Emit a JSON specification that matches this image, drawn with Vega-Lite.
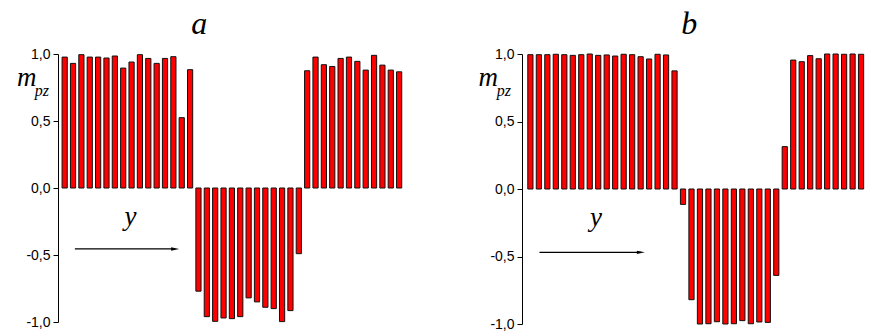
{
  "$schema": "https://vega.github.io/schema/vega-lite/v6.json",
  "padding": {"left": 17, "top": 7, "right": 0, "bottom": 0},
  "spacing": 112,
  "bounds": "flush",
  "config": {
    "view": {"stroke": null},
    "axisX": {"disable": true},
    "axisY": {
      "grid": false,
      "title": null,
      "domainColor": "black",
      "tickColor": "black",
      "labelColor": "black",
      "labelFont": "Liberation Sans",
      "labelFontSize": 14,
      "labelPadding": 3
    }
  },
  "datasets": {
    "a": [
      {"site": 1, "mpz": 0.977}, {"site": 2, "mpz": 0.93}, {"site": 3, "mpz": 0.995}, {"site": 4, "mpz": 0.977},
      {"site": 5, "mpz": 0.977}, {"site": 6, "mpz": 0.97}, {"site": 7, "mpz": 0.985}, {"site": 8, "mpz": 0.895},
      {"site": 9, "mpz": 0.94}, {"site": 10, "mpz": 0.995}, {"site": 11, "mpz": 0.967}, {"site": 12, "mpz": 0.93},
      {"site": 13, "mpz": 0.967}, {"site": 14, "mpz": 0.98}, {"site": 15, "mpz": 0.525}, {"site": 16, "mpz": 0.883},
      {"site": 17, "mpz": -0.77}, {"site": 18, "mpz": -0.96}, {"site": 19, "mpz": -0.995}, {"site": 20, "mpz": -0.97},
      {"site": 21, "mpz": -0.975}, {"site": 22, "mpz": -0.96}, {"site": 23, "mpz": -0.82}, {"site": 24, "mpz": -0.85},
      {"site": 25, "mpz": -0.89}, {"site": 26, "mpz": -0.9}, {"site": 27, "mpz": -0.997}, {"site": 28, "mpz": -0.915},
      {"site": 29, "mpz": -0.49},
      {"site": 30, "mpz": 0.875}, {"site": 31, "mpz": 0.977}, {"site": 32, "mpz": 0.92}, {"site": 33, "mpz": 0.907},
      {"site": 34, "mpz": 0.967}, {"site": 35, "mpz": 0.977}, {"site": 36, "mpz": 0.945}, {"site": 37, "mpz": 0.88},
      {"site": 38, "mpz": 0.99}, {"site": 39, "mpz": 0.917}, {"site": 40, "mpz": 0.88}, {"site": 41, "mpz": 0.867}
    ],
    "b": [
      {"site": 1, "mpz": 0.995}, {"site": 2, "mpz": 0.995}, {"site": 3, "mpz": 0.995}, {"site": 4, "mpz": 0.998},
      {"site": 5, "mpz": 0.995}, {"site": 6, "mpz": 0.99}, {"site": 7, "mpz": 0.995}, {"site": 8, "mpz": 1.0},
      {"site": 9, "mpz": 0.99}, {"site": 10, "mpz": 0.993}, {"site": 11, "mpz": 0.985}, {"site": 12, "mpz": 0.998},
      {"site": 13, "mpz": 0.995}, {"site": 14, "mpz": 0.98}, {"site": 15, "mpz": 0.963}, {"site": 16, "mpz": 0.998},
      {"site": 17, "mpz": 0.993}, {"site": 18, "mpz": 0.875},
      {"site": 19, "mpz": -0.114}, {"site": 20, "mpz": -0.82}, {"site": 21, "mpz": -1.0}, {"site": 22, "mpz": -0.998},
      {"site": 23, "mpz": -0.983}, {"site": 24, "mpz": -1.0}, {"site": 25, "mpz": -0.998}, {"site": 26, "mpz": -0.975},
      {"site": 27, "mpz": -0.998}, {"site": 28, "mpz": -0.985}, {"site": 29, "mpz": -0.988}, {"site": 30, "mpz": -0.64},
      {"site": 31, "mpz": 0.314}, {"site": 32, "mpz": 0.955}, {"site": 33, "mpz": 0.943}, {"site": 34, "mpz": 0.988},
      {"site": 35, "mpz": 0.965}, {"site": 36, "mpz": 1.0}, {"site": 37, "mpz": 1.0}, {"site": 38, "mpz": 0.998},
      {"site": 39, "mpz": 1.0}, {"site": 40, "mpz": 0.998}
    ],
    "one": [{}]
  },
  "hconcat": [
    {
      "width": 352,
      "height": 268,
      "layer": [
        {
          "data": {"name": "a"},
          "mark": {"type": "bar", "fill": "#ff0000", "stroke": "#111111", "strokeWidth": 1, "size": 5.2},
          "encoding": {
            "x": {"field": "site", "type": "quantitative", "scale": {"domain": [0.8, 41.7], "nice": false, "zero": false}},
            "y": {
              "field": "mpz", "type": "quantitative",
              "scale": {"domain": [-1, 1], "nice": false},
              "axis": {
                "values": [-1, -0.75, -0.5, -0.25, 0, 0.25, 0.5, 0.75, 1],
                "tickSize": {"condition": {"test": "abs(datum.value*2-round(datum.value*2))<0.01", "value": 5}, "value": 3},
                "labelExpr": "abs(datum.value*2-round(datum.value*2))<0.01 ? (datum.value<0?'-':'')+replace(format(abs(datum.value),'.1f'),'.',',') : ''"
              }
            }
          }
        },
        {
          "data": {"name": "one"},
          "mark": {"type": "rule", "color": "black", "strokeWidth": 1.3},
          "encoding": {"x": {"datum": 2.22}, "x2": {"datum": 14.2}, "y": {"datum": -0.455}}
        },
        {
          "data": {"name": "one"},
          "mark": {"type": "point", "shape": "M-1,-0.42L1,0L-1,0.42Z", "filled": true, "color": "black", "opacity": 1, "size": 64},
          "encoding": {"x": {"datum": 14.21}, "y": {"datum": -0.455}}
        },
        {
          "data": {"name": "one"},
          "mark": {"type": "text", "text": "a", "font": "Liberation Serif", "fontStyle": "italic", "fontSize": 32, "align": "center", "baseline": "alphabetic", "color": "black"},
          "encoding": {"x": {"datum": 17.08}, "y": {"datum": 1.152}}
        },
        {
          "data": {"name": "one"},
          "mark": {"type": "text", "text": "m", "font": "Liberation Serif", "fontStyle": "italic", "fontSize": 27, "align": "left", "baseline": "alphabetic", "color": "black"},
          "encoding": {"x": {"datum": -4.7}, "y": {"datum": 0.759}}
        },
        {
          "data": {"name": "one"},
          "mark": {"type": "text", "text": "pz", "font": "Liberation Serif", "fontStyle": "italic", "fontSize": 16, "align": "left", "baseline": "alphabetic", "color": "black"},
          "encoding": {"x": {"datum": -2.57}, "y": {"datum": 0.684}}
        },
        {
          "data": {"name": "one"},
          "mark": {"type": "text", "text": "y", "font": "Liberation Serif", "fontStyle": "italic", "fontSize": 27, "align": "center", "baseline": "alphabetic", "color": "black"},
          "encoding": {"x": {"datum": 8.88}, "y": {"datum": -0.275}}
        }
      ]
    },
    {
      "width": 350,
      "height": 270,
      "layer": [
        {
          "data": {"name": "b"},
          "mark": {"type": "bar", "fill": "#ff0000", "stroke": "#111111", "strokeWidth": 1, "size": 5.2},
          "encoding": {
            "x": {"field": "site", "type": "quantitative", "scale": {"domain": [0.6, 40.7], "nice": false, "zero": false}},
            "y": {
              "field": "mpz", "type": "quantitative",
              "scale": {"domain": [-1, 1], "nice": false},
              "axis": {
                "values": [-1, -0.75, -0.5, -0.25, 0, 0.25, 0.5, 0.75, 1],
                "tickSize": {"condition": {"test": "abs(datum.value*2-round(datum.value*2))<0.01", "value": 5}, "value": 3},
                "labelExpr": "abs(datum.value*2-round(datum.value*2))<0.01 ? (datum.value<0?'-':'')+replace(format(abs(datum.value),'.1f'),'.',',') : ''"
              }
            }
          }
        },
        {
          "data": {"name": "one"},
          "mark": {"type": "rule", "color": "black", "strokeWidth": 1.3},
          "encoding": {"x": {"datum": 2.07}, "x2": {"datum": 14.0}, "y": {"datum": -0.469}}
        },
        {
          "data": {"name": "one"},
          "mark": {"type": "point", "shape": "M-1,-0.42L1,0L-1,0.42Z", "filled": true, "color": "black", "opacity": 1, "size": 64},
          "encoding": {"x": {"datum": 14.03}, "y": {"datum": -0.469}}
        },
        {
          "data": {"name": "one"},
          "mark": {"type": "text", "text": "b", "font": "Liberation Serif", "fontStyle": "italic", "fontSize": 32, "align": "center", "baseline": "alphabetic", "color": "black"},
          "encoding": {"x": {"datum": 19.73}, "y": {"datum": 1.151}}
        },
        {
          "data": {"name": "one"},
          "mark": {"type": "text", "text": "m", "font": "Liberation Serif", "fontStyle": "italic", "fontSize": 27, "align": "left", "baseline": "alphabetic", "color": "black"},
          "encoding": {"x": {"datum": -5.12}, "y": {"datum": 0.761}}
        },
        {
          "data": {"name": "one"},
          "mark": {"type": "text", "text": "pz", "font": "Liberation Serif", "fontStyle": "italic", "fontSize": 16, "align": "left", "baseline": "alphabetic", "color": "black"},
          "encoding": {"x": {"datum": -2.98}, "y": {"datum": 0.687}}
        },
        {
          "data": {"name": "one"},
          "mark": {"type": "text", "text": "y", "font": "Liberation Serif", "fontStyle": "italic", "fontSize": 27, "align": "center", "baseline": "alphabetic", "color": "black"},
          "encoding": {"x": {"datum": 8.75}, "y": {"datum": -0.271}}
        }
      ]
    }
  ]
}
